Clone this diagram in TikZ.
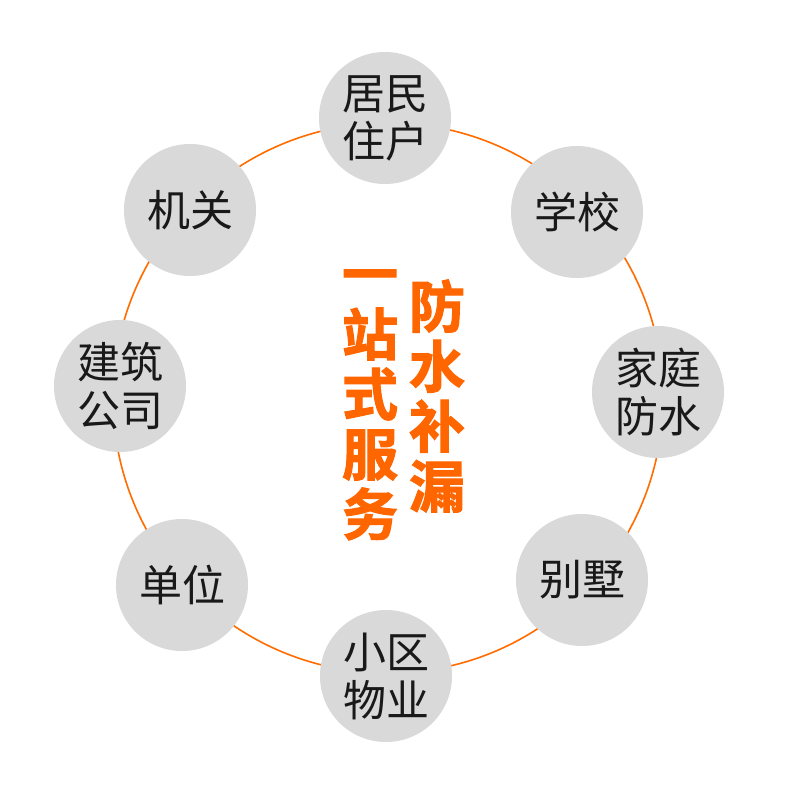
\documentclass[tikz,border=0pt]{standalone}
\usepackage{fontspec}
\setmainfont{Noto Sans CJK SC}
\newfontfamily\cjkb[FakeBold=2]{Noto Sans CJK SC Bold}
\begin{document}
\begin{tikzpicture}[x=1pt,y=-1pt,
  bub/.style={circle,minimum size=132pt,fill=black!15,inner sep=0pt,align=center,font=\fontsize{43}{48}\selectfont,text=black!90},
  ctext/.style={text=orange!80!red,font=\cjkb\fontsize{56}{60}\selectfont,align=center,inner sep=0pt}]
\useasboundingbox[fill=white] (0,0) rectangle (800,800);
\draw[orange!85!red,line width=1.6pt] (388,398) circle (275);
\node[bub] (a) at (385,118) {居民\\住户};
\node[bub] (b) at (577,212) {学校};
\node[bub] (c) at (658,392) {家庭\\防水};
\node[bub] (d) at (582,580) {别墅};
\node[bub] (e) at (386,676) {小区\\物业};
\node[bub] (f) at (182,585) {单位};
\node[bub] (g) at (120,386) {建筑\\公司};
\node[bub] (h) at (190,210) {机关};
\node[ctext] (l) at (370,405) {一\\站\\式\\服\\务};
\node[ctext] (r) at (437,396) {防\\水\\补\\漏};
\end{tikzpicture}
\end{document}
